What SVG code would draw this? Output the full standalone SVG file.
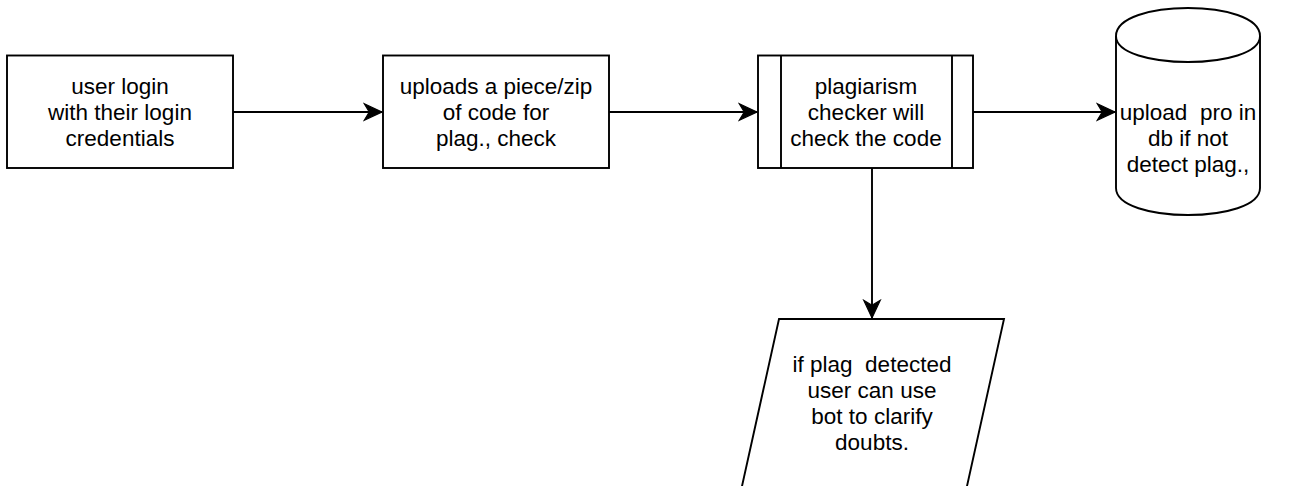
<svg xmlns="http://www.w3.org/2000/svg" width="1290" height="486" viewBox="0 0 1290 486">
<style>
.shape{fill:#fff;stroke:#000;stroke-width:1.9}
.edge{fill:none;stroke:#000;stroke-width:1.9}
.lbl{font-family:"Liberation Sans",Arial,sans-serif;font-size:22.5px;fill:#000;text-anchor:middle;white-space:pre}
</style>
<defs>
<marker id="arr" markerUnits="userSpaceOnUse" markerWidth="20" markerHeight="20" viewBox="-17 -9 18 18" refX="0" refY="0" orient="auto">
<path d="M0,0 L-16,-7.5 L-11.5,0 L-16,7.5 Z" fill="#000" stroke="#000" stroke-width="1"/>
</marker>
</defs>
<rect width="1290" height="486" fill="#fff"/>
<g id="connectors">
<path class="edge" d="M233,112 L382,112" marker-end="url(#arr)"/>
<path class="edge" d="M609,112 L757,112" marker-end="url(#arr)"/>
<path class="edge" d="M973,112 L1115,112" marker-end="url(#arr)"/>
<path class="edge" d="M872,168 L872,318" marker-end="url(#arr)"/>
</g>
<g id="login">
<rect class="shape" x="7" y="55.5" width="226" height="112.5"/>
<text class="lbl" x="120" y="94">user login</text>
<text class="lbl" x="120" y="120">with their login</text>
<text class="lbl" x="120" y="146">credentials</text>
</g>
<g id="upload">
<rect class="shape" x="383" y="55.5" width="226" height="112.5"/>
<text class="lbl" x="496" y="94">uploads a piece/zip</text>
<text class="lbl" x="496" y="120">of code for</text>
<text class="lbl" x="496" y="146">plag., check</text>
</g>
<g id="checker">
<rect class="shape" x="758" y="55.5" width="215" height="112.5"/>
<line class="edge" x1="781" y1="55.5" x2="781" y2="168"/>
<line class="edge" x1="952" y1="55.5" x2="952" y2="168"/>
<text class="lbl" x="866" y="94">plagiarism</text>
<text class="lbl" x="866" y="120">checker will</text>
<text class="lbl" x="866" y="146">check the code</text>
</g>
<g id="database">
<path class="shape" d="M1116,36 C1116,-1.3 1260,-1.3 1260,36 L1260,188 C1260,224 1116,224 1116,188 Z"/>
<path class="edge" d="M1116,36 C1116,70.7 1260,70.7 1260,36"/>
<text class="lbl" x="1188" y="120">upload  pro in</text>
<text class="lbl" x="1188" y="146">db if not</text>
<text class="lbl" x="1188" y="172">detect plag.,</text>
</g>
<g id="bot">
<polygon class="shape" points="779,319 1004,319 959.5,520 734.5,520"/>
<text class="lbl" x="872" y="372">if plag  detected</text>
<text class="lbl" x="872" y="398">user can use</text>
<text class="lbl" x="872" y="424">bot to clarify</text>
<text class="lbl" x="872" y="450">doubts.</text>
</g>
</svg>
